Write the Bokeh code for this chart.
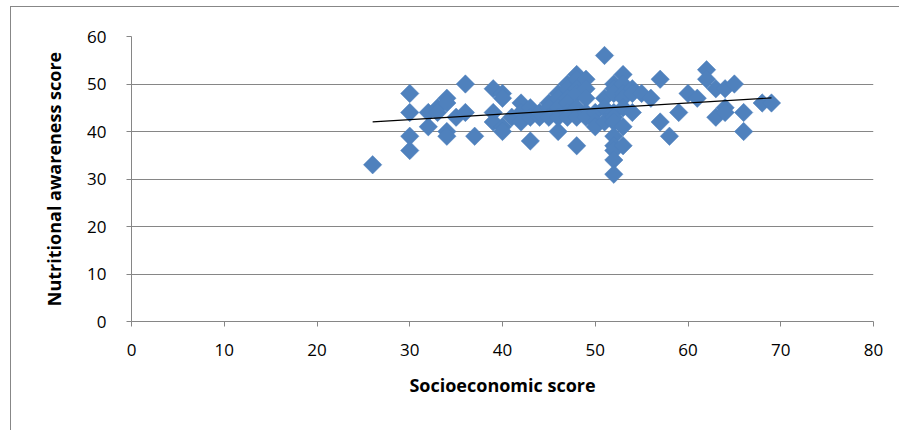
import numpy as np
from bokeh.plotting import figure
from bokeh.models import ColumnDataSource, Range1d, SingleIntervalTicker
from bokeh.embed import file_html
from bokeh.resources import INLINE

# Socioeconomic score (x) and Nutritional awareness score (y)
socio = [26, 30, 30, 30, 30, 32, 32, 33, 33, 34, 34, 34, 34, 35, 36, 36, 37,
         39, 39, 39, 40, 40, 40, 40, 41, 42, 42, 42, 43, 43, 43, 44, 44,
         45, 45, 45, 46, 46, 46, 46, 46, 47, 47, 47, 47, 47, 47,
         48, 48, 48, 48, 48, 48, 48, 49, 49, 49, 49, 49, 50, 50, 50,
         51, 51, 51, 51, 52, 52, 52, 52, 52, 52, 52, 52, 52, 52, 52,
         53, 53, 53, 53, 53, 53, 53, 54, 54, 54, 55, 56, 57, 57, 58, 59,
         60, 61, 62, 62, 63, 63, 64, 64, 64, 65, 66, 66, 68, 69]
nutri = [33, 48, 44, 39, 36, 44, 41, 45, 44, 47, 46, 40, 39, 43, 50, 44, 39,
         49, 44, 42, 48, 47, 41, 40, 43, 46, 44, 42, 45, 43, 38, 43, 44,
         46, 45, 43, 48, 47, 45, 43, 40, 50, 49, 47, 46, 44, 43,
         52, 51, 49, 48, 45, 43, 37, 51, 49, 47, 44, 43, 44, 42, 41,
         56, 47, 45, 42, 50, 49, 48, 44, 43, 42, 39, 37, 36, 34, 31,
         52, 50, 48, 47, 45, 41, 37, 49, 48, 44, 48, 47, 51, 42, 39, 44,
         48, 47, 53, 51, 49, 43, 49, 45, 44, 50, 44, 40, 46, 46]

x_ticks_interval = 10
y_ticks_interval = 10

GRID = "#868686"
FONT = "Open Sans"

p = figure(width=889, height=424, output_backend="svg", toolbar_location=None,
           x_range=Range1d(0, 80), y_range=Range1d(0, 60),
           min_border_left=120, min_border_right=27, min_border_top=29,
           min_border_bottom=110, outline_line_color=None)
p.margin = (6, 0, 0, 10)
p.styles = {"border-left": "1px solid #878787", "border-top": "1px solid #878787"}

src = ColumnDataSource(dict(x=socio, y=nutri))
p.scatter("x", "y", source=src, marker="square", angle=np.pi / 4, size=13,
          fill_color="#4F81BD", line_color="#4F81BD", line_width=0.5)

# linear trend line fitted to the data
slope, intercept = np.polyfit(socio, nutri, 1)
xs = [min(socio), max(socio)]
p.line(xs, [slope * v + intercept for v in xs], line_color="black", line_width=1.2)

p.xaxis.ticker = SingleIntervalTicker(interval=x_ticks_interval)
p.yaxis.ticker = SingleIntervalTicker(interval=y_ticks_interval)
p.xgrid.visible = False
p.ygrid.grid_line_color = GRID
p.ygrid.grid_line_width = 1

for ax in (p.xaxis[0], p.yaxis[0]):
    ax.axis_line_color = GRID
    ax.major_tick_line_color = GRID
    ax.major_tick_in = 0
    ax.major_tick_out = 5
    ax.minor_tick_line_color = None
    ax.major_label_text_font = FONT
    ax.major_label_text_font_size = "17px"
    ax.major_label_text_color = "black"
    ax.axis_label_text_font = FONT
    ax.axis_label_text_font_size = "18px"
    ax.axis_label_text_font_style = "bold"
    ax.axis_label_text_color = "black"

p.xaxis.axis_label = "Socioeconomic score"
p.yaxis.axis_label = "Nutritional awareness score"
p.xaxis.major_label_standoff = 17
p.yaxis.major_label_standoff = 20
p.xaxis.axis_label_standoff = 14
p.yaxis.axis_label_standoff = 18

open("out.html", "w").write(file_html(p, INLINE))
